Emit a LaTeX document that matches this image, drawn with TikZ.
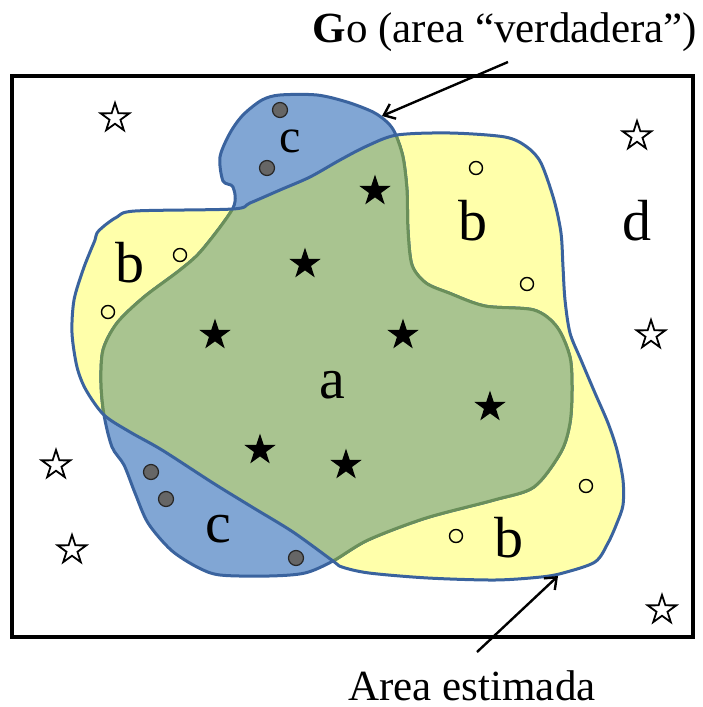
\documentclass[tikz,border=0pt]{standalone}
\usepackage{fontspec}
\setmainfont{Liberation Serif}
\usetikzlibrary{shapes.geometric,arrows.meta}

\definecolor{estyellow}{HTML}{FFFFAA}
\definecolor{goblue}{HTML}{81A6D4}
\definecolor{bothgreen}{HTML}{A9C490}
\definecolor{rimblue}{HTML}{3A639E}
\definecolor{rimgreen}{HTML}{6A8F5A}

% true area (Go) and estimated area, in picture pixels
\newcommand\goarea{plot[smooth cycle,tension=0.5] coordinates{
  (233,208) (233,187) (223,181) (220,157) (230,133) (243,115) (262,100)
  (280,95) (317,95) (347,102) (373,112) (387,122) (395,133) (403,157)
  (407,190) (408,230) (412,265) (426,283) (449,293) (485,306) (534,310)
  (557,327) (570,357) (572,390) (570,423) (561,452) (534,487) (494,500)
  (426,518) (368,540) (333,561) (305,573) (269,576) (220,575) (197,567)
  (171,550) (148,523) (135,493) (124,465) (112,447) (104,415) (101,383)
  (103,350) (117,323) (144,297) (180,270) (202,250)}}
\newcommand\estarea{plot[smooth cycle,tension=0.5] coordinates{
  (233,209) (250,203) (280,190) (310,177) (340,160) (367,146) (397,135)
  (450,133) (505,137) (527,147) (541,163) (554,200) (561,233) (563,267)
  (565,300) (570,333) (581,360) (595,393) (608,423) (617,450) (623,480)
  (623,505) (617,523) (608,543) (595,562) (563,573) (541,577) (495,580)
  (428,578) (369,573) (342,567) (333,561) (293,532) (252,507) (213,483)
  (162,450) (130,432) (104,415) (86,390) (77,367) (72,333) (74,300)
  (83,270) (90,252) (95,240) (97,233) (104,226) (117,217) (135,211)}}

\begin{document}
\begin{tikzpicture}[x=0.5pt,y=-0.5pt,
  rim/.style={line width=1.5pt,line join=round},
  openstar/.style={star,star points=5,star point ratio=2.6,draw,line width=0.9pt,
    fill=white,inner sep=0pt,minimum size=15pt},
  fullstar/.style={star,star points=5,star point ratio=2.6,fill=black,
    inner sep=0pt,minimum size=16.5pt},
  greydot/.style={circle,draw=black!85,line width=0.6pt,fill=black!60,
    inner sep=0pt,minimum size=7.5pt},
  opendot/.style={circle,draw,line width=0.7pt,inner sep=0pt,minimum size=6.5pt},
  region/.style={anchor=base,inner sep=0pt,font=\fontsize{29}{29}\selectfont},
  caption/.style={anchor=base,inner sep=0pt,font=\fontsize{21.5}{24}\selectfont},
  pointer/.style={line width=1.2pt,-{Straight Barb[length=5pt,width=8pt]}}]
  \useasboundingbox (0,0) rectangle (702,707);
  \draw[line width=2pt] (12,76) rectangle (693,637);

  % the two areas and their overlap
  \fill[estyellow] \estarea;
  \fill[goblue] \goarea;
  \draw[rim,draw=rimblue] \goarea;
  \begin{scope}
    \clip \estarea;
    \fill[bothgreen] \goarea;
    \draw[rim,draw=rimgreen] \goarea;
  \end{scope}
  \draw[rim,draw=rimblue] \estarea;

  % points
  \foreach \px/\py [count=\i] in {115/118,637/136,651/335,56/465,72/550,662/610}
    \node[openstar] (d\i) at (\px,\py) {};
  \foreach \px/\py [count=\i] in {375/191,305/264,215/335,403/335,490/407,260/450,346/465}
    \node[fullstar] (a\i) at (\px,\py) {};
  \foreach \px/\py [count=\i] in {280/110,267/168,151/472,166/499,296/558}
    \node[greydot] (c\i) at (\px,\py) {};
  \foreach \px/\py [count=\i] in {476/168,180/255,108/312,527/284,586/486,456/536}
    \node[opendot] (b\i) at (\px,\py) {};

  % labels
  \node[region,font=\fontsize{24}{24}\selectfont] (ctop) at (290,152) {c};
  \node[region] (bleft) at (130,282) {b};
  \node[region] (bright) at (473,240) {b};
  \node[region] (dout) at (637,240) {d};
  \node[region] (amid) at (332,398) {a};
  \node[region] (cbot) at (218,542) {c};
  \node[region] (bbot) at (509,557) {b};

  \node[caption] (gotitle) at (505,42) {\textbf{G}o (area “verdadera”)};
  \node[caption] (esttitle) at (472,700) {Area estimada};
  \coordinate (gotail) at (508,62);
  \coordinate (gotip) at (382,116);
  \coordinate (esttail) at (477,652);
  \coordinate (esttip) at (558,576);
  \draw[pointer] (gotail) -- (gotip);
  \draw[pointer] (esttail) -- (esttip);
\end{tikzpicture}
\end{document}
